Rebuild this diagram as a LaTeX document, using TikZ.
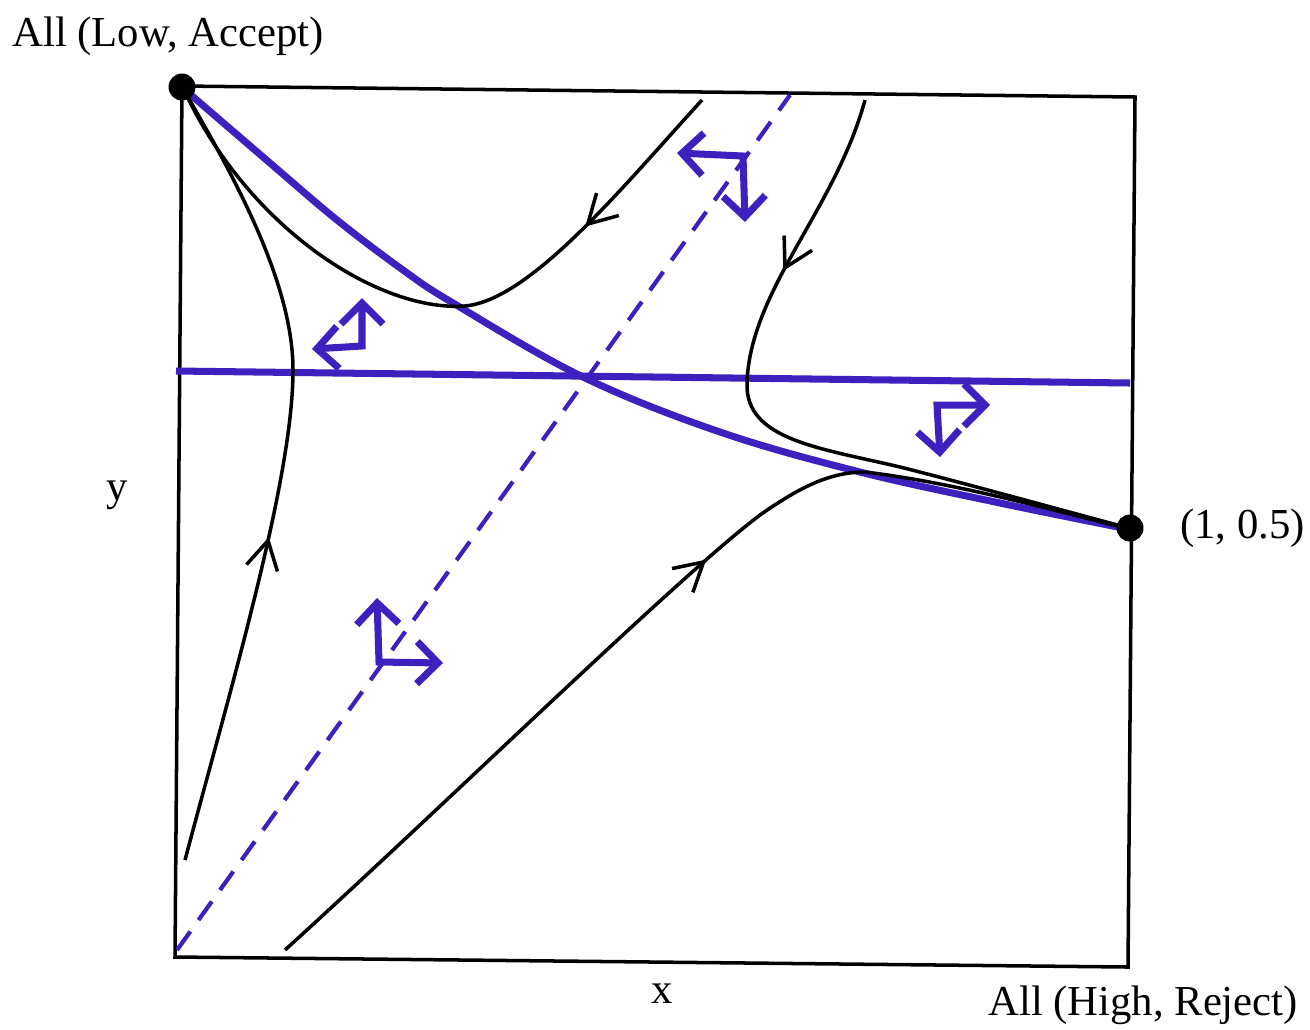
\documentclass[tikz,border=0pt]{standalone}
\usepackage{fontspec}
\setmainfont{Liberation Serif}
\usetikzlibrary{arrows.meta,decorations.markings}
\definecolor{bl}{RGB}{62,32,190}
\tikzset{
 blk/.style={line width=2pt, black},
 blu/.style={line width=4pt, bl},
 dsh/.style={line width=2.4pt, bl, dash pattern=on 13pt off 8pt},
 barr/.style={line width=4pt, bl, {Straight Barb[length=12pt,width=24pt]}-{Straight Barb[length=12pt,width=24pt]}},
 midarrow/.style={postaction={decorate,decoration={markings,mark=at position #1 with {\arrow{Straight Barb[length=16pt,width=18pt,line width=2pt]}}}}},
 dot/.style={circle,fill=black,inner sep=0pt,minimum size=0.54cm},
 lab/.style={font=\fontsize{24.3}{28}\selectfont, inner sep=0pt},
}
\begin{document}
\begin{tikzpicture}[x=0.02cm,y=-0.02cm]
\useasboundingbox (0,0) rectangle (1310,1029);
% box
\coordinate (TL) at (182,86);
\coordinate (TR) at (1135,97);
\coordinate (BR) at (1128,967);
\coordinate (BL) at (175,957);
\draw[blk] (TL) -- (TR) -- (BR) -- (BL) -- cycle;
% dashed line
\coordinate (d0) at (177,950);
\coordinate (d1) at (790,95);
\draw[dsh] (d0) -- (d1);
% horizontal blue line
\coordinate (h0) at (176,371);
\coordinate (h1) at (1130,383);
\draw[blu] (h0) -- (h1);
% equilibria (positions)
\coordinate (lowc) at (182,87);
\coordinate (highc) at (1130,528);
% blue separatrix
\draw[blu] plot[smooth,tension=0.6] coordinates {(184,89) (270,163) (337,220) (403,270) (453,303) (583,377) (720,432) (860,472) (1000,503) (1128,529)};
% black trajectories
\draw[blk,midarrow=0.25] (702,100) .. controls (620,190) and (530,300) .. (465,306) .. controls (380,312) and (250,230) .. (185,92);
\draw[blk,midarrow=0.26] (865,100) .. controls (835,210) and (750,290) .. (747,383) .. controls (745,440) and (820,448) .. (900,467) .. controls (960,482) and (1050,507) .. (1125,527);
\draw[blk,midarrow=0.415] (185,860) .. controls (230,690) and (293,480) .. (293,370) .. controls (293,280) and (230,170) .. (185,92);
\draw[blk,midarrow=0.56] (285,950) .. controls (450,800) and (680,575) .. (760,515) .. controls (800,487) and (830,472) .. (865,472) .. controls (950,482) and (1050,509) .. (1125,528);
% blue direction arrows
\draw[barr] (677,153) -- (743,156) -- (745,222);
\draw[barr] (362,298) -- (362,346) -- (312,349);
\draw[barr] (990,405) -- (937,405) -- (940,457);
\draw[barr] (377,598) -- (379,662) -- (443,663);
% equilibria
\node[dot] (low) at (lowc) {};
\node[dot] (high) at (highc) {};
% labels
\node[lab,anchor=base west] (lowlab) at (12,46) {All (Low, Accept)};
\node[lab,anchor=base west] (highlab) at (988,1015) {All (High, Reject)};
\node[lab,anchor=base west] (ptlab) at (1180,538) {(1, 0.5)};
\node[lab,anchor=base] (ylab) at (117,500) {y};
\node[lab,anchor=base] (xlab) at (662,1003) {x};
\end{tikzpicture}
\end{document}
